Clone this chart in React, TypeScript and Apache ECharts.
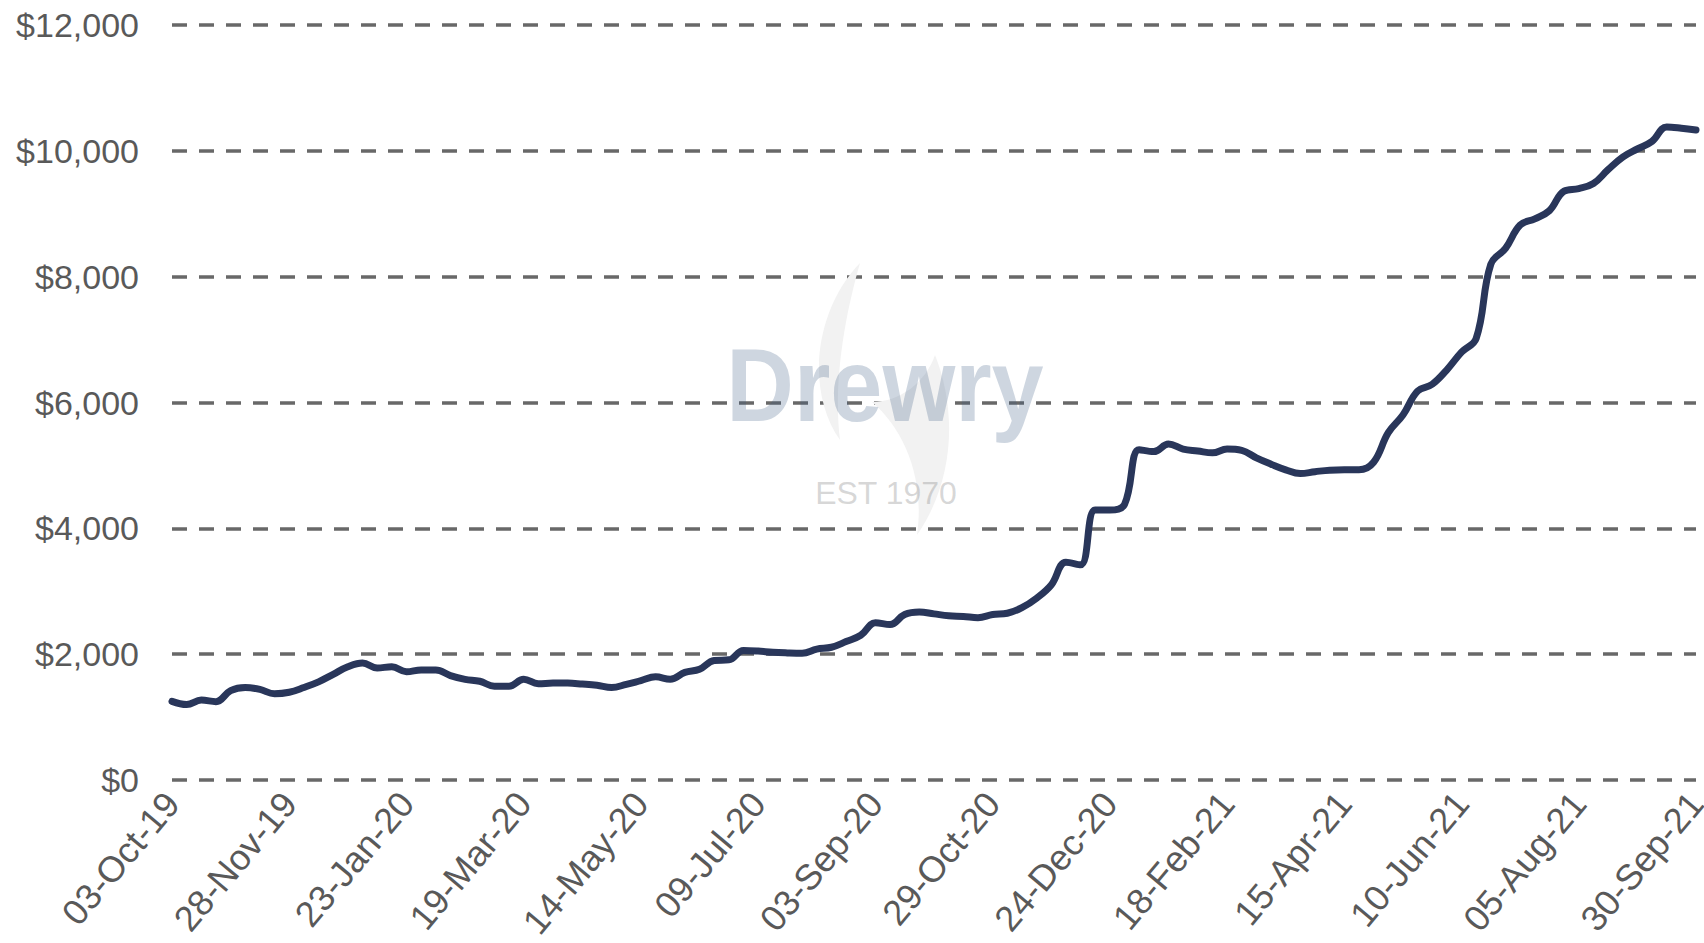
import React, { useEffect, useRef } from "react";
import * as echarts from "echarts";

// Weekly dates from 03-Oct-19 to 30-Sep-21
const MONTHS = ["Jan", "Feb", "Mar", "Apr", "May", "Jun", "Jul", "Aug", "Sep", "Oct", "Nov", "Dec"];
const START = { year: 2019, month: 9, day: 3 };
const WEEK_COUNT = 105;
const weekLabels: string[] = Array.from({ length: WEEK_COUNT }, (_, i) => {
  const d = new Date(Date.UTC(START.year, START.month, START.day + 7 * i));
  const dd = String(d.getUTCDate()).padStart(2, "0");
  const yy = String(d.getUTCFullYear() % 100).padStart(2, "0");
  return `${dd}-${MONTHS[d.getUTCMonth()]}-${yy}`;
});

// Composite rate, $ per 40ft container
const rates: number[] = [
  1250, 1200, 1270, 1245, 1420, 1470, 1440, 1370, 1395, 1470,
  1560, 1680, 1800, 1860, 1780, 1800, 1720, 1750, 1750, 1660,
  1600, 1570, 1490, 1490, 1600, 1530, 1540, 1540, 1525, 1505,
  1470, 1520, 1580, 1640, 1600, 1710, 1760, 1900, 1910, 2060,
  2050, 2030, 2020, 2015, 2080, 2110, 2200, 2300, 2500, 2470,
  2630, 2670, 2640, 2610, 2600, 2580, 2630, 2650, 2740, 2890,
  3100, 3460, 3420, 4290, 4290, 4380, 5250, 5220, 5340, 5260,
  5230, 5200, 5260, 5240, 5120, 5020, 4930, 4870, 4900, 4925,
  4930, 4930, 5050, 5520, 5800, 6180, 6290, 6520, 6800, 7020,
  8200, 8450, 8820, 8920, 9050, 9360, 9400, 9480, 9700, 9900,
  10030, 10150, 10380, 10360, 10330,
];

const yMin = 0;
const yMax = 12000;
const yStep = 2000;
const labelEvery = 8;

const FLAME_PATH =
  "M 860 263 C 815 310 805 390 840 440 C 835 400 838 340 860 263 Z " +
  "M 935 355 C 957 410 955 480 917 535 C 925 480 905 430 872 402 C 900 402 926 382 935 355 Z";

let flameRegistered = false;
function registerFlame() {
  if (flameRegistered) return;
  echarts.graphic.registerShape("flame", echarts.graphic.extendPath(FLAME_PATH, {}) as any);
  flameRegistered = true;
}

const fmtMoney = (v: number) => "$" + String(Math.round(v)).replace(/\B(?=(\d{3})+(?!\d))/g, ",");

const FONT = '"Liberation Sans", Arial, Helvetica, sans-serif';

export default function App() {
  const ref = useRef<HTMLDivElement>(null);

  useEffect(() => {
    if (!ref.current) return;
    registerFlame();
    const chart = echarts.init(ref.current, undefined, { renderer: "svg" });
    chart.setOption({
      animation: false,
      backgroundColor: "#ffffff",
      grid: { left: 172, right: 8, top: 25, bottom: 163, containLabel: false, outerBoundsMode: "none" } as any,
      xAxis: {
        type: "category",
        data: weekLabels,
        boundaryGap: false,
        axisLine: { show: false },
        axisTick: { show: false },
        splitLine: { show: false },
        axisLabel: {
          interval: labelEvery - 1,
          rotate: 50,
          margin: 17,
          color: "#595959",
          fontSize: 36,
          lineHeight: 14,
          fontFamily: FONT,
        },
      },
      yAxis: {
        type: "value",
        min: yMin,
        max: yMax,
        interval: yStep,
        axisLine: { show: false },
        axisTick: { show: false },
        axisLabel: {
          margin: 33,
          color: "#595959",
          fontSize: 34,
          fontFamily: FONT,
          formatter: (v: number) => fmtMoney(v),
        },
        splitLine: {
          show: true,
          lineStyle: { color: "#686868", width: 3.5, type: [15, 12] },
        },
      },
      graphic: [
        {
          type: "flame",
          x: 0,
          y: 0,
          z: 1,
          silent: true,
          style: { fill: "#f2f2f2" },
        },
        {
          type: "text",
          x: 885,
          y: 385,
          scaleX: 0.9,
          z: 1,
          silent: true,
          style: {
            text: "Drewry",
            x: 0,
            y: 0,
            align: "center",
            verticalAlign: "middle",
            fontSize: 104,
            fontWeight: "bold",
            fontFamily: FONT,
            fill: "rgba(60, 90, 130, 0.25)",
          },
        },
        {
          type: "text",
          x: 886,
          y: 493,
          z: 1,
          silent: true,
          style: {
            text: "EST 1970",
            x: 0,
            y: 0,
            align: "center",
            verticalAlign: "middle",
            fontSize: 32,
            fontFamily: FONT,
            fill: "rgba(140, 140, 140, 0.35)",
          },
        },
      ],
      series: [
        {
          type: "line",
          data: rates,
          smooth: 0.4,
          showSymbol: false,
          symbol: "none",
          z: 3,
          lineStyle: { color: "#29365a", width: 7, cap: "round", join: "round" },
        },
      ],
    });
    return () => chart.dispose();
  }, []);

  return (
    <div
      ref={ref}
      style={{ position: "absolute", left: 0, top: 0, width: 1704, height: 943, background: "#fff" }}
    />
  );
}
